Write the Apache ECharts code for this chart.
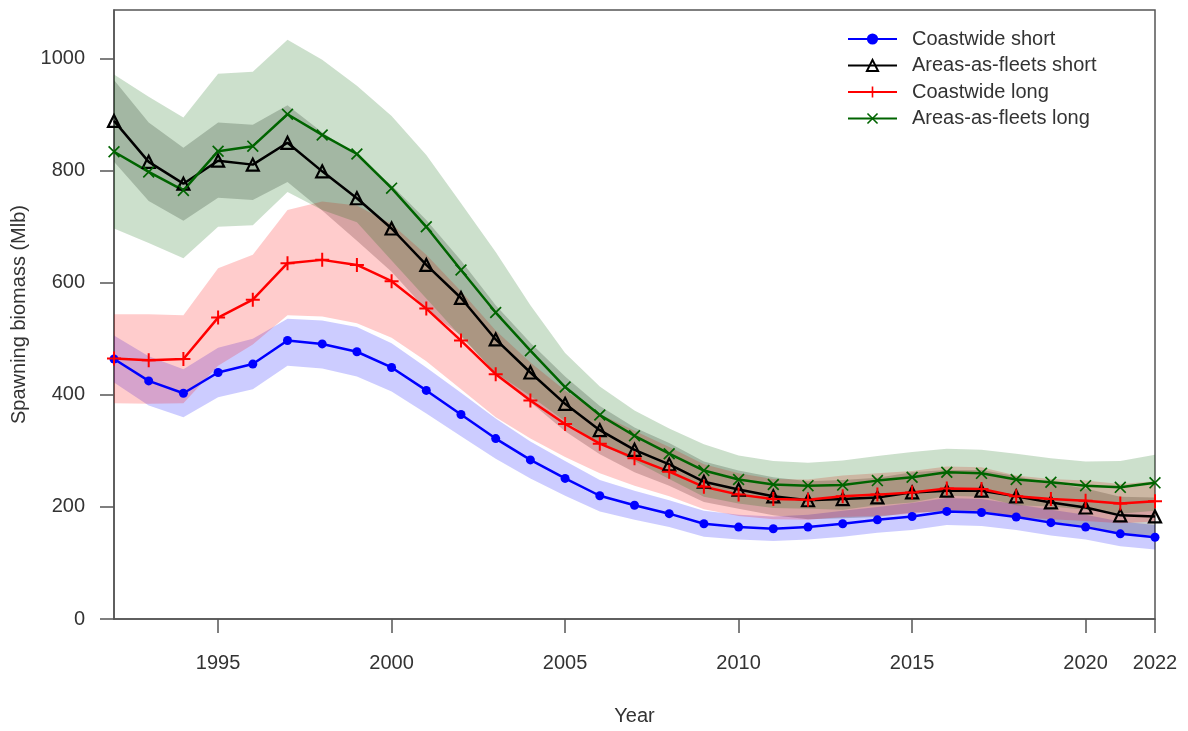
<!DOCTYPE html>
<html>
<head>
<meta charset="utf-8">
<title>Spawning biomass</title>
<script src="https://cdn.jsdelivr.net/npm/echarts@6/dist/echarts.min.js"></script>
<style>
  html, body { margin: 0; padding: 0; background: #fff; }
  #chart { width: 1188px; height: 731px; }
</style>
</head>
<body>
<div id="chart"></div>
<script>
// Model years
const years = [1992, 1993, 1994, 1995, 1996, 1997, 1998, 1999, 2000, 2001, 2002,
  2003, 2004, 2005, 2006, 2007, 2008, 2009, 2010, 2011, 2012, 2013, 2014, 2015,
  2016, 2017, 2018, 2019, 2020, 2021, 2022];

// Coastwide short: estimate and interval
const cwShort = [464, 425, 403, 440, 455, 497, 491, 477, 449, 408, 365, 322, 284, 251,
  220, 203, 188, 170, 164, 161, 164, 170, 177, 183, 192, 190, 182, 172, 164, 152, 146];
const cwShortLo = [422, 381, 360, 396, 410, 452, 447, 433, 406, 367, 326, 286, 251, 220,
  192, 177, 164, 147, 142, 139, 142, 147, 154, 159, 168, 166, 159, 149, 142, 130, 124];
const cwShortHi = [506, 469, 446, 484, 500, 536, 533, 521, 492, 449, 404, 358, 317, 282,
  248, 229, 212, 193, 186, 183, 186, 193, 200, 207, 216, 214, 205, 195, 186, 174, 168];

// Areas-as-fleets short
const aafShort = [889, 816, 777, 818, 811, 850, 799, 751, 697, 632, 573, 499, 440, 384,
  337, 302, 276, 245, 231, 219, 212, 214, 217, 226, 229, 229, 219, 208, 199, 185, 183];
const aafShortLo = [816, 746, 711, 752, 748, 780, 729, 675, 620, 552, 506, 438, 387, 335,
  294, 262, 238, 209, 197, 185, 178, 180, 182, 190, 192, 192, 183, 173, 165, 152, 149];
const aafShortHi = [962, 886, 841, 886, 882, 917, 869, 827, 774, 712, 640, 560, 493, 433,
  380, 342, 314, 281, 265, 253, 246, 248, 252, 262, 266, 266, 255, 243, 233, 218, 217];

// Coastwide long
const cwLong = [465, 462, 464, 538, 570, 635, 641, 632, 603, 554, 497, 437, 390, 348,
  313, 287, 263, 236, 222, 214, 213, 219, 222, 226, 233, 232, 219, 214, 211, 206, 210];
const cwLongLo = [385, 384, 385, 452, 490, 542, 540, 528, 502, 460, 410, 360, 322, 289,
  260, 238, 219, 196, 184, 178, 177, 182, 184, 188, 194, 193, 182, 178, 175, 171, 174];
const cwLongHi = [544, 544, 542, 626, 650, 730, 745, 738, 705, 650, 585, 515, 458, 408,
  366, 336, 307, 276, 260, 250, 249, 256, 260, 264, 272, 271, 256, 250, 247, 241, 246];

// Areas-as-fleets long
const aafLong = [834, 798, 765, 835, 844, 901, 864, 830, 769, 700, 623, 547, 479, 414,
  364, 327, 295, 265, 249, 240, 238, 239, 247, 253, 262, 260, 249, 244, 238, 235, 243];
const aafLongLo = [697, 671, 644, 700, 703, 762, 730, 708, 640, 572, 504, 439, 398, 353,
  313, 282, 250, 218, 206, 198, 197, 195, 203, 208, 220, 218, 203, 201, 195, 188, 193];
const aafLongHi = [972, 932, 895, 973, 977, 1034, 998, 952, 898, 828, 742, 655, 560, 475,
  415, 372, 340, 312, 292, 282, 279, 283, 291, 298, 304, 302, 295, 287, 281, 282, 293];

// Axis ticks
const xTicks = [1995, 2000, 2005, 2010, 2015, 2020, 2022];
const yTicks = [0, 200, 400, 600, 800, 1000];

const TEXT = '#333333';
const AXIS = '#555555';
const FONT = 'Liberation Sans, Arial, sans-serif';

const pts = (vals) => years.map((y, i) => [y, vals[i]]);

// Shaded interval drawn as one polygon: upper edge forward, lower edge back
function band(lo, hi, fill) {
  return {
    type: 'custom',
    data: years.map((y, i) => [y, lo[i], hi[i]]),
    encode: { x: 0, y: [1, 2] },
    silent: true,
    z: 1,
    renderItem: function (params, api) {
      if (params.dataIndex !== 0) return null;
      const upper = years.map((y, i) => api.coord([y, hi[i]]));
      const lower = years.map((y, i) => api.coord([y, lo[i]])).reverse();
      return {
        type: 'polygon',
        shape: { points: upper.concat(lower) },
        style: { fill: fill, stroke: null }
      };
    }
  };
}

const PLUS = 'path://M6,0H8V6H14V8H8V14H6V8H0V6H6Z';
const CROSS = 'path://M0,1.4L1.4,0L14,12.6L12.6,14Z M12.6,0L14,1.4L1.4,14L0,12.6Z';

function line(name, vals, color, symbol, size, itemStyle) {
  return {
    type: 'line', name: name, data: pts(vals),
    symbol: symbol, symbolSize: size, showSymbol: true,
    lineStyle: { color: color, width: 2.5 },
    itemStyle: itemStyle || { color: color },
    z: 3, emphasis: { disabled: true }
  };
}

const series = [
  band(cwShortLo, cwShortHi, 'rgba(0,0,255,0.2)'),
  band(aafShortLo, aafShortHi, 'rgba(0,0,0,0.2)'),
  band(cwLongLo, cwLongHi, 'rgba(255,0,0,0.2)'),
  band(aafLongLo, aafLongHi, 'rgba(0,100,0,0.2)'),
  line('Coastwide short', cwShort, '#0000ff', 'circle', 9),
  line('Areas-as-fleets short', aafShort, '#000000', 'triangle', 12,
    { color: 'rgba(255,255,255,0)', borderColor: '#000000', borderWidth: 2.2 }),
  line('Coastwide long', cwLong, '#ff0000', PLUS, 14),
  line('Areas-as-fleets long', aafLong, '#006400', CROSS, 12)
];

const chart = echarts.init(document.getElementById('chart'), null, { renderer: 'canvas' });
chart.setOption({
  animation: false,
  backgroundColor: '#ffffff',
  textStyle: { fontFamily: FONT },
  grid: {
    left: 114, right: 33, top: 10, bottom: 108,
    show: true, borderColor: AXIS, borderWidth: 1.5, backgroundColor: 'transparent'
  },
  legend: {
    data: ['Coastwide short', 'Areas-as-fleets short', 'Coastwide long', 'Areas-as-fleets long'],
    orient: 'vertical', left: 842, top: 24,
    itemWidth: 49, itemHeight: 14, itemGap: 6.5,
    textStyle: { color: TEXT, fontSize: 20, fontFamily: FONT, padding: [0, 0, 0, 10], lineHeight: 20 },
    selectedMode: false
  },
  xAxis: {
    type: 'value', min: 1992, max: 2022,
    name: 'Year', nameLocation: 'middle', nameGap: 87,
    nameTextStyle: { color: TEXT, fontSize: 20, fontFamily: FONT },
    axisLine: { show: true, onZero: false, lineStyle: { color: AXIS, width: 1.5 } },
    axisTick: { show: true, length: 14, customValues: xTicks, lineStyle: { color: AXIS, width: 1.5 } },
    axisLabel: { customValues: xTicks, color: TEXT, fontSize: 20, fontFamily: FONT, margin: 34,
      formatter: (v) => String(v) },
    splitLine: { show: false }
  },
  yAxis: {
    type: 'value', min: 0, max: 1087, interval: 200,
    name: 'Spawning biomass (Mlb)', nameLocation: 'middle', nameGap: 76, nameRotate: 90,
    nameTextStyle: { color: TEXT, fontSize: 20, fontFamily: FONT },
    axisLine: { show: true, lineStyle: { color: AXIS, width: 1.5 } },
    axisTick: { show: true, length: 14, customValues: yTicks, lineStyle: { color: AXIS, width: 1.5 } },
    axisLabel: { customValues: yTicks, color: TEXT, fontSize: 20, fontFamily: FONT, margin: 29,
      formatter: (v) => String(v) },
    splitLine: { show: false }
  },
  series: series
});
</script>
</body>
</html>
